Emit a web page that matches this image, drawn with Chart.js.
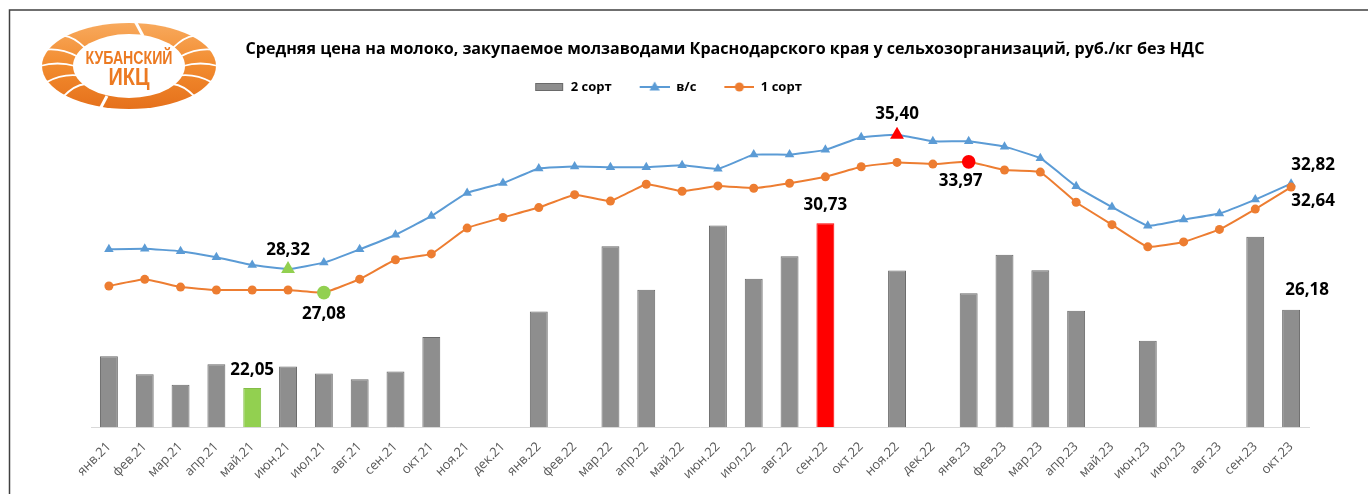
<!DOCTYPE html>
<html lang="ru">
<head>
<meta charset="utf-8">
<title>Средняя цена на молоко</title>
<script src="https://cdn.jsdelivr.net/npm/chart.js@4.4.0/dist/chart.umd.min.js"></script>
<style>
  html, body { margin: 0; padding: 0; background: #fff; }
  canvas { display: block; }
</style>
</head>
<body>
<canvas id="milkChart" width="1368" height="494"></canvas>
<script>
const chartTitle = 'Средняя цена на молоко, закупаемое молзаводами Краснодарского края у сельхозорганизаций, руб./кг без НДС';

const months = ['янв.21', 'фев.21', 'мар.21', 'апр.21', 'май.21', 'июн.21', 'июл.21', 'авг.21', 'сен.21', 'окт.21', 'ноя.21', 'дек.21',
  'янв.22', 'фев.22', 'мар.22', 'апр.22', 'май.22', 'июн.22', 'июл.22', 'авг.22', 'сен.22', 'окт.22', 'ноя.22', 'дек.22',
  'янв.23', 'фев.23', 'мар.23', 'апр.23', 'май.23', 'июн.23', 'июл.23', 'авг.23', 'сен.23', 'окт.23'];

// 2 сорт (bars), gaps where no price was published
const grade2 = [23.73, 22.78, 22.22, 23.31, 22.05, 23.19, 22.82, 22.51, 22.93, 24.74, null, null,
  26.09, null, 29.52, 27.23, null, 30.61, 27.81, 29.00, 30.73, null, 28.25, null,
  27.04, 29.07, 28.26, 26.13, null, 24.55, null, null, 30.02, 26.18];

// высший сорт
const premium = [29.36, 29.39, 29.26, 28.94, 28.53, 28.32, 28.66, 29.36, 30.13, 31.11, 32.33, 32.85,
  33.62, 33.72, 33.69, 33.69, 33.79, 33.60, 34.35, 34.35, 34.60, 35.26, 35.40, 35.05,
  35.05, 34.77, 34.16, 32.68, 31.59, 30.60, 30.93, 31.25, 31.98, 32.82];

// 1 сорт
const grade1 = [27.43, 27.78, 27.37, 27.22, 27.22, 27.22, 27.08, 27.79, 28.81, 29.12, 30.48, 31.04,
  31.56, 32.24, 31.90, 32.79, 32.42, 32.70, 32.58, 32.84, 33.18, 33.71, 33.94, 33.85,
  33.97, 33.54, 33.43, 31.84, 30.66, 29.49, 29.75, 30.41, 31.48, 32.64];

// min / max points of each series
const grade2Low = 4, grade2High = 20;
const premiumLow = 5, premiumHigh = 22;
const grade1Low = 6, grade1High = 24;

const GREEN = '#92d050';
const RED = '#ff0000';
const BLUE = '#5b9bd5';
const ORANGE = '#ed7d31';
const BAR_GRAY = '#8e8e8e';
const BAR_EDGE = '#6a6a6a';

function pick(n, low, high, normal, lowVal, highVal) {
  return Array.from({length: n}, (_, i) => i === low ? lowVal : (i === high ? highVal : normal));
}

// labels drawn next to marks: dataset index, point index, offset
const labelSpots = [
  {ds: 0, i: grade2Low, dx: 0, dy: -18},
  {ds: 0, i: grade2High, dx: 0, dy: -18},
  {ds: 0, i: 33, dx: 16, dy: -20},
  {ds: 1, i: premiumLow, dx: 0, dy: -19},
  {ds: 1, i: premiumHigh, dx: 0, dy: -21},
  {ds: 1, i: 33, dx: 22, dy: -19},
  {ds: 2, i: grade1Low, dx: 0, dy: 22},
  {ds: 2, i: grade1High, dx: -8, dy: 19},
  {ds: 2, i: 33, dx: 22, dy: 14}
];

// fit title font to the width it has in the original
const measure = document.createElement('canvas').getContext('2d');
measure.font = 'bold 15px "Open Sans"';
const titleSize = Math.round(15 * 960 / measure.measureText(chartTitle).width * 10) / 10;

function legendIcon(kind, color) {
  const c = document.createElement('canvas');
  c.width = 46; c.height = 14;
  const g = c.getContext('2d');
  if (kind === 'bar') {
    g.fillStyle = BAR_GRAY;
    g.fillRect(17, 3, 28, 8);
    g.strokeStyle = BAR_EDGE;
    g.lineWidth = 1;
    g.strokeRect(17.5, 3.5, 27, 7);
    return c;
  }
  g.strokeStyle = color;
  g.lineWidth = 2;
  g.beginPath(); g.moveTo(16, 7); g.lineTo(46, 7); g.stroke();
  g.fillStyle = color;
  g.beginPath();
  if (kind === 'triangle') {
    g.moveTo(31, 1.5); g.lineTo(36.2, 10.5); g.lineTo(25.8, 10.5);
  } else {
    g.arc(31, 7, 4.5, 0, Math.PI * 2);
  }
  g.closePath(); g.fill();
  return c;
}

function drawLogo(ctx) {
  ctx.save();
  ctx.translate(129, 66);
  const grad = ctx.createLinearGradient(0, -44, 0, 44);
  grad.addColorStop(0, '#f8aa5e');
  grad.addColorStop(0.5, '#f28b2e');
  grad.addColorStop(1, '#e5701b');
  ctx.fillStyle = grad;
  ctx.beginPath(); ctx.ellipse(0, 0, 87, 43, 0, 0, Math.PI * 2); ctx.fill();
  ctx.fillStyle = '#fff';
  ctx.beginPath(); ctx.ellipse(0, 0, 56, 32, 0, 0, Math.PI * 2); ctx.fill();
  // grain-like cuts on the sides
  ctx.strokeStyle = '#fff';
  ctx.lineWidth = 1.8;
  for (const s of [-1, 1]) {
    for (const t of [-0.62, -0.31, 0, 0.31, 0.62]) {
      const x1 = s * 54 * Math.cos(t), y1 = 31 * Math.sin(t);
      const x2 = s * 89 * Math.cos(t * 1.2), y2 = 45 * Math.sin(t * 1.2);
      ctx.beginPath();
      ctx.moveTo(x1, y1);
      ctx.quadraticCurveTo((x1 + x2) / 2, (y1 + y2) / 2 - 5, x2, y2);
      ctx.stroke();
    }
  }
  // arrow notches top and bottom
  ctx.lineWidth = 3;
  ctx.beginPath(); ctx.moveTo(6, -45); ctx.lineTo(14, -30); ctx.stroke();
  ctx.beginPath(); ctx.moveTo(-30, 45); ctx.lineTo(-22, 30); ctx.stroke();
  ctx.fillStyle = '#ec7a22';
  ctx.textAlign = 'center';
  ctx.textBaseline = 'alphabetic';
  ctx.font = 'bold 18px "Liberation Sans"';
  let w = ctx.measureText('КУБАНСКИЙ').width;
  ctx.save(); ctx.scale(87 / w, 1); ctx.fillText('КУБАНСКИЙ', 0, -2); ctx.restore();
  ctx.font = 'bold 23px "Liberation Sans"';
  w = ctx.measureText('ИКЦ').width;
  ctx.save(); ctx.scale(41 / w, 1); ctx.fillText('ИКЦ', 0, 19); ctx.restore();
  ctx.restore();
}

const frameAndLogo = {
  id: 'frameAndLogo',
  beforeDraw(chart) {
    const ctx = chart.ctx;
    ctx.save();
    ctx.fillStyle = '#fff';
    ctx.fillRect(0, 0, chart.width, chart.height);
    ctx.strokeStyle = '#404040';
    ctx.lineWidth = 1.5;
    ctx.beginPath();
    ctx.moveTo(9.5, chart.height);
    ctx.lineTo(9.5, 10);
    ctx.lineTo(chart.width, 10);
    ctx.stroke();
    ctx.restore();
    drawLogo(ctx);
  }
};

// title and legend are not centred on the plot in the original
const placeBoxes = {
  id: 'placeBoxes',
  afterLayout(chart) {
    const t = chart.titleBlock;
    const th = t.bottom - t.top;
    t.left += 25; t.right += 25;
    t.top = 49 - th / 2; t.bottom = t.top + th;
    const l = chart.legend;
    const lh = l.bottom - l.top;
    l.left -= 40; l.right -= 40;
    l.top = 87 - 12 - 6.5; l.bottom = l.top + lh;
  }
};

const valueLabels = {
  id: 'valueLabels',
  afterDatasetsDraw(chart) {
    const ctx = chart.ctx;
    ctx.save();
    ctx.font = 'bold 17px "Open Sans"';
    ctx.fillStyle = '#000';
    ctx.textAlign = 'center';
    ctx.textBaseline = 'middle';
    labelSpots.forEach(s => {
      const el = chart.getDatasetMeta(s.ds).data[s.i];
      const v = chart.data.datasets[s.ds].data[s.i];
      ctx.fillText(v.toFixed(2).replace('.', ','), el.x + s.dx, el.y + s.dy);
    });
    ctx.restore();
  }
};

const n = months.length;

new Chart(document.getElementById('milkChart'), {
  type: 'bar',
  data: {
    labels: months,
    datasets: [
      {
        type: 'bar',
        label: '2 сорт',
        data: grade2,
        order: 3,
        backgroundColor: pick(n, grade2Low, grade2High, BAR_GRAY, GREEN, RED),
        borderColor: pick(n, grade2Low, grade2High, BAR_EDGE, '#84bd48', RED),
        borderWidth: 1,
        barPercentage: 0.5,
        categoryPercentage: 1
      },
      {
        type: 'line',
        label: 'в/с',
        data: premium,
        order: 2,
        borderColor: BLUE,
        borderWidth: 2,
        tension: 0.1,
        pointStyle: 'triangle',
        pointRadius: pick(n, premiumLow, premiumHigh, 5.5, 8, 8),
        pointBackgroundColor: pick(n, premiumLow, premiumHigh, BLUE, GREEN, RED),
        pointBorderColor: pick(n, premiumLow, premiumHigh, BLUE, GREEN, RED),
        pointBorderWidth: 0
      },
      {
        type: 'line',
        label: '1 сорт',
        data: grade1,
        order: 1,
        borderColor: ORANGE,
        borderWidth: 2,
        tension: 0.1,
        pointStyle: 'circle',
        pointRadius: pick(n, grade1Low, grade1High, 4.5, 6.8, 6.8),
        pointBackgroundColor: pick(n, grade1Low, grade1High, ORANGE, GREEN, RED),
        pointBorderColor: pick(n, grade1Low, grade1High, ORANGE, GREEN, RED),
        pointBorderWidth: 0
      }
    ]
  },
  options: {
    responsive: false,
    animation: false,
    events: [],
    layout: { padding: { top: 50, left: 91, right: 59, bottom: 0 } },
    plugins: {
      tooltip: { enabled: false },
      title: {
        display: true,
        text: chartTitle,
        color: '#000',
        font: { family: 'Open Sans', weight: 'bold', size: titleSize, lineHeight: 1.2 },
        padding: 0
      },
      legend: {
        display: true,
        labels: {
          usePointStyle: true,
          pointStyleWidth: 46,
          boxHeight: 13,
          padding: 12,
          color: '#262626',
          font: { family: 'Open Sans', weight: 'bold', size: 13 },
          sort: (a, b) => a.datasetIndex - b.datasetIndex,
          generateLabels: (chart) => [
            {text: '2 сорт', pointStyle: legendIcon('bar'), datasetIndex: 0, lineWidth: 0, hidden: false},
            {text: 'в/с', pointStyle: legendIcon('triangle', BLUE), datasetIndex: 1, lineWidth: 0, hidden: false},
            {text: '1 сорт', pointStyle: legendIcon('circle', ORANGE), datasetIndex: 2, lineWidth: 0, hidden: false}
          ]
        }
      }
    },
    scales: {
      x: {
        offset: true,
        grid: { display: false, drawTicks: false },
        border: { display: true, color: '#d9d9d9', width: 1 },
        ticks: {
          color: '#595959',
          font: { family: 'Open Sans', size: 13 },
          minRotation: 45,
          maxRotation: 45,
          autoSkip: false,
          padding: 12
        },
        afterFit: (scale) => { scale.height = 67; }
      },
      y: {
        display: false,
        min: 20,
        max: 37
      }
    }
  },
  plugins: [frameAndLogo, placeBoxes, valueLabels]
});
</script>
</body>
</html>
